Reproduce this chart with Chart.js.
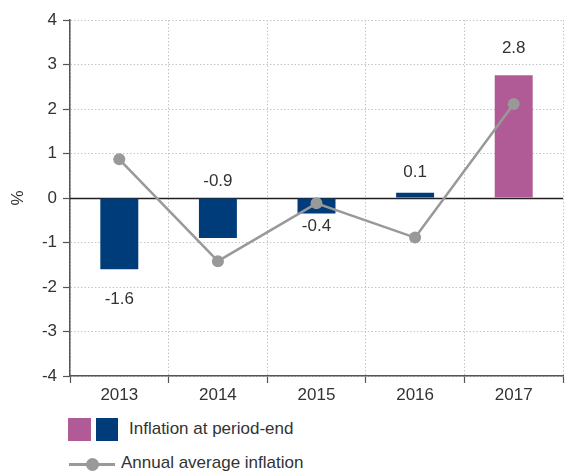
<!DOCTYPE html>
<html><head><meta charset="utf-8">
<script src="https://cdn.jsdelivr.net/npm/chart.js@4.4.1/dist/chart.umd.min.js"></script>
<style>
html,body{margin:0;padding:0;background:#fff;overflow:hidden;}
#wrap{position:absolute;left:0;top:0;width:575px;height:405px;}
.leg{position:absolute;font-family:"Liberation Sans",Arial,sans-serif;font-size:17px;color:#333;white-space:nowrap;}
</style></head>
<body>
<div id="wrap"><canvas id="c" width="575" height="405"></canvas></div>
<div class="leg" style="left:68px;top:418px;width:23px;height:23px;background:#B05A96"></div>
<div class="leg" style="left:96px;top:418px;width:22px;height:23px;background:#003B7A"></div>
<div class="leg" style="left:129px;top:419px;">Inflation at period-end</div>
<div class="leg" style="left:69px;top:463px;width:46px;height:3px;background:#999"></div>
<div class="leg" style="left:86px;top:458px;width:13px;height:13px;border-radius:50%;background:#999"></div>
<div class="leg" style="left:121px;top:453px;">Annual average inflation</div>
<script>
const categories = ["2013","2014","2015","2016","2017"];
const periodEnd = [-1.6, -0.9, -0.35, 0.12, 2.76];
const periodEndLabels = ["-1.6","-0.9","-0.4","0.1","2.8"];
const annualAverage = [0.87, -1.42, -0.12, -0.89, 2.11];
const yTicks = [-4,-3,-2,-1,0,1,2,3,4];

const blue = "#003B7A", pink = "#B05A96", grey = "#999999";
const barColors = periodEnd.map((v,i)=> i===4 ? pink : blue);
// label pixel offsets from bar end; null => above zero line
const labelOffsets = [30, null, 13, -20, -27];

const labelPlugin = {
  id:'labels',
  afterDatasetsDraw(chart){
    const ctx = chart.ctx, meta = chart.getDatasetMeta(1), ys = chart.scales.y;
    ctx.save();
    ctx.font = '17px "Liberation Sans", Arial, sans-serif';
    ctx.fillStyle = '#333';
    ctx.textAlign = 'center'; ctx.textBaseline = 'middle';
    meta.data.forEach((bar,i)=>{
      let y;
      if (labelOffsets[i] === null) y = ys.getPixelForValue(0) - 17;
      else y = bar.y + labelOffsets[i];
      ctx.fillText(periodEndLabels[i], bar.x, y);
    });
    ctx.restore();
  },
  beforeDatasetsDraw(chart){
    const ctx = chart.ctx, ys = chart.scales.y, a = chart.chartArea;
    const y0 = Math.round(ys.getPixelForValue(0)) + 0.5;
    ctx.save();
    ctx.strokeStyle = '#222'; ctx.lineWidth = 1.3;
    ctx.beginPath(); ctx.moveTo(a.left, y0); ctx.lineTo(a.right, y0); ctx.stroke();
    ctx.restore();
  }
};

new Chart(document.getElementById('c'), {
  data: {
    labels: categories,
    datasets: [
      { type:'line', data: annualAverage, borderColor: grey, backgroundColor: grey,
        borderWidth: 2.5, pointRadius: 6, pointHoverRadius: 6, pointBackgroundColor: grey,
        pointBorderWidth: 0, tension: 0, order: 0 },
      { type:'bar', data: periodEnd, backgroundColor: barColors,
        barPercentage: 0.385, categoryPercentage: 1, order: 1 }
    ]
  },
  options: {
    responsive: false, animation: false,
    plugins: { legend: {display:false}, tooltip:{enabled:false} },
    layout: { padding: { top: 20, right: 12, left: 8, bottom: 0 } },
    scales: {
      x: {
        offset: true,
        grid: { offset: true, color: '#c4c4c4', lineWidth: 1, tickLength: 7,
                tickColor: '#555', tickBorderDash: [], tickWidth: 1.2 },
        border: { display: true, color: '#555', width: 1.5, dash: [1.5,2] },
        ticks: { color: '#333', font: { family: '"Liberation Sans", Arial, sans-serif', size: 17 }, padding: 2 },
        afterFit(s){ s.height = 29; }
      },
      y: {
        min: -4, max: 4,
        afterBuildTicks(s){ s.ticks = yTicks.map(v=>({value:v})); },
        grid: { color: '#c4c4c4', lineWidth: 1, tickLength: 7,
                tickColor: '#555', tickBorderDash: [], tickWidth: 1.2 },
        border: { display: true, color: '#555', width: 1.5, dash: [1.5,2] },
        ticks: { color: '#333', font: { family: '"Liberation Sans", Arial, sans-serif', size: 17 }, padding: 6,
                 callback: v => String(v) },
        title: { display: true, text: '%', color: '#333', padding: {top:0,bottom:4},
                 font: { family: '"Liberation Sans", Arial, sans-serif', size: 17 } },
        afterFit(s){ s.width = 62; }
      }
    }
  },
  plugins: [labelPlugin]
});
</script>
</body></html>
